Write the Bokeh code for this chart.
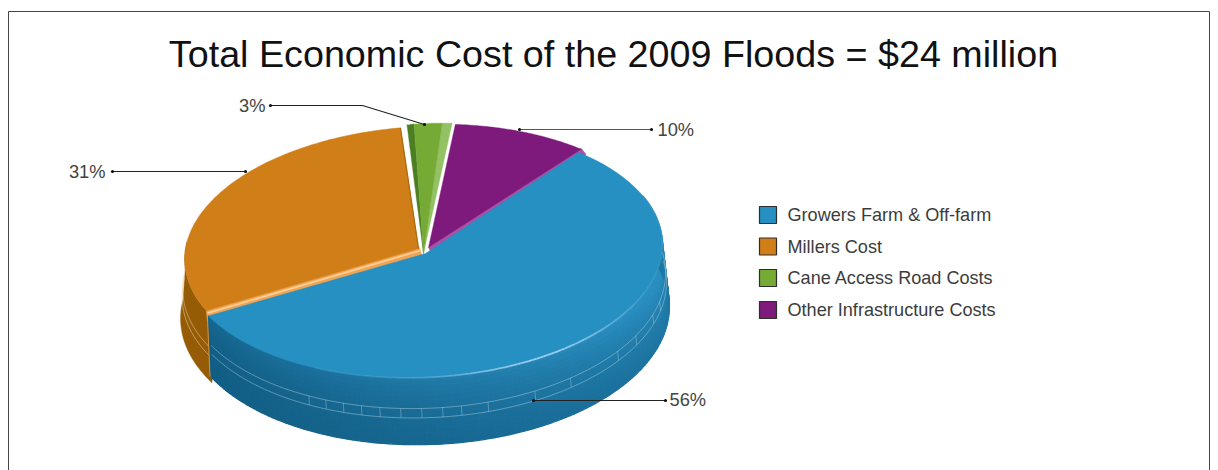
import numpy as np
from bokeh.embed import file_html
from bokeh.models import Range1d
from bokeh.plotting import figure
from bokeh.resources import INLINE
from bokeh.core.properties import value

TITLE = "Total Economic Cost of the 2009 Floods = $24 million"
categories = ["Growers Farm & Off-farm", "Millers Cost", "Cane Access Road Costs", "Other Infrastructure Costs"]
shares = [56, 31, 3, 10]
share_labels = ["56%", "31%", "3%", "10%"]
colors = ["#2590c1", "#d07e18", "#75aa35", "#7d1a7c"]

FONT = value("Liberation Sans")

# pie projection: a tilted ellipse for the top face and one for the bottom rim
TOP = dict(cx=424.0, cy=251.0, a=240.0, b=125.0, tilt=np.radians(2.6))
BOT = dict(cx=427.0, cy=312.0, a=242.0, b=132.0, tilt=np.radians(2.0))
START = 47.0


def rim(theta_deg, e=TOP, off=(0, 0)):
    t = np.radians(np.asarray(theta_deg, dtype=float))
    u, v = e["a"] * np.cos(t), -e["b"] * np.sin(t)
    c, s = np.cos(e["tilt"]), np.sin(e["tilt"])
    return e["cx"] + u * c + v * s + off[0], e["cy"] - u * s + v * c + off[1]


def arc(t0, t1, n=90):
    return np.linspace(t0, t1, n)


def wedge(t0, t1, tip, off=(0, 0)):
    x, y = rim(arc(t0, t1), TOP, off)
    return [tip[0]] + list(x), [tip[1]] + list(y)


def mix(c0, c1, f):
    f = float(np.clip(f, 0, 1))
    a = [int(c0[i:i + 2], 16) for i in (1, 3, 5)]
    b = [int(c1[i:i + 2], 16) for i in (1, 3, 5)]
    return "#%02x%02x%02x" % tuple(round(p + (q - p) * f) for p, q in zip(a, b))


# slice boundaries run clockwise from the start angle
spans = np.array(shares) * 3.6
ends = START - np.cumsum(spans)
begins = ends + spans
blue_start, blue_end = begins[0], ends[0]
orange_start, orange_end = begins[1], ends[1]
green_start, green_end = begins[2], ends[2]
purple_start, purple_end = begins[3], ends[3]

p = figure(width=1218, height=470, output_backend="svg", toolbar_location=None,
           x_range=Range1d(0, 1218), y_range=Range1d(470, 0),
           min_border=0, outline_line_color=None, background_fill_color="white",
           border_fill_color="white")
p.axis.visible = False
p.grid.visible = False

# frame, open at the bottom
p.line([8, 8, 1209, 1209], [470, 11, 11, 470], line_color="#444444", line_width=1)

p.text([613], [53], text=[TITLE], text_font=FONT, text_font_size="37.7px", text_color="#111111",
       text_align="center", text_baseline="middle")

# --- outer wall of the orange slice, tucked slightly under the blue wall
side_th = arc(orange_start + 3, orange_start - 35, 44)
tx, ty = rim(side_th, TOP, (0, 0))
bx, by = rim(side_th, BOT, (-5, 0))
p.patch(list(tx) + list(bx[::-1]), list(ty) + list(by[::-1]), fill_color="#955c05", line_color="#955c05", line_width=0.5)
for depth in (0.50, 0.63):
    p.line(tx + (bx - tx) * depth, ty + (by - ty) * depth, line_color="#e6cfa6", line_width=0.8, line_alpha=0.7)

# --- orange top face and its cut edge
ox, oy = wedge(orange_start - 2.2, orange_end + 0.6, (418, 248))
cx0, cy0 = rim(orange_start - 2.2)
p.patch([cx0, 419, 422, cx0 + 1], [cy0, 247, 257, cy0 + 10], fill_color="#f0a452", line_color="#f0a452", line_width=0.5)
p.patch(ox, oy, fill_color=colors[1], line_color=colors[1], line_width=0.5)
p.line([cx0 + 1, 420], [cy0 + 2.5, 250], line_color="#fbcd98", line_width=1.8)
ex, ey = rim(orange_end + 0.6)
p.line([ex, 418], [ey, 248], line_color="#a9690f", line_width=1.2)

# --- green slice: left wall, top face, right wall
gtip = (423, 253)
goff = (4, -3)
g_dark = green_start - spans[2] * 0.16
g_light = green_start - spans[2] * 0.78
p.patches(
    [wedge(green_start, g_dark, gtip, goff)[0], wedge(g_light, green_end, gtip, goff)[0], wedge(g_dark, g_light, gtip, goff)[0]],
    [wedge(green_start, g_dark, gtip, goff)[1], wedge(g_light, green_end, gtip, goff)[1], wedge(g_dark, g_light, gtip, goff)[1]],
    fill_color=["#4c7f22", "#93c163", colors[2]], line_color=["#4c7f22", "#93c163", colors[2]], line_width=0.4)

# --- purple slice with its lit cut face
poff = (1, -2)
qx, qy = rim(purple_end + 1.2, TOP, poff)
p.patch([qx + 5, qx, 428, 432], [qy + 5, qy - 1, 247, 255], fill_color="#a652a6", line_color="#a652a6", line_width=0.4)
ux, uy = wedge(purple_start - 1.5, purple_end + 1.2, (428, 247), poff)
p.patch(ux, uy, fill_color=colors[3], line_color=colors[3], line_width=0.4)

# --- blue wall, shaded strip by strip
dark, light = "#125e85", "#2a8ec0"
th_edges = np.linspace(blue_end, 22, 141)
depths = np.linspace(0, 1, 15)
bl_off = (-2, 1)
wall_x, wall_y, wall_c = [], [], []
for th0, th1 in zip(th_edges[:-1], th_edges[1:]):
    mid = (th0 + th1) / 2
    along = np.clip((mid - blue_end) / 140.0, 0, 1) ** 1.2
    tx0, ty0 = rim(th0, TOP, bl_off)
    tx1, ty1 = rim(th1, TOP, bl_off)
    bx0, by0 = rim(th0, BOT, (0, 0))
    bx1, by1 = rim(th1, BOT, (0, 0))
    for d0, d1 in zip(depths[:-1], depths[1:]):
        dm = (d0 + d1) / 2
        wall_x.append([tx0 + (bx0 - tx0) * d0, tx1 + (bx1 - tx1) * d0, tx1 + (bx1 - tx1) * d1, tx0 + (bx0 - tx0) * d1])
        wall_y.append([ty0 + (by0 - ty0) * d0, ty1 + (by1 - ty1) * d0, ty1 + (by1 - ty1) * d1, ty0 + (by0 - ty0) * d1])
        wall_c.append(mix(dark, light, along * (1 - 0.5 * dm) + 0.22 * (1 - dm) ** 3))
p.patches(wall_x, wall_y, fill_color=wall_c, line_color=wall_c, line_width=1.3)

# seam lines and small ticks on the wall
wall_th = arc(blue_end + 1, 8, 150)
lane_a, lane_b = 0.46, 0.60


def lane(th, d):
    a = rim(th, TOP, bl_off)
    b = rim(th, BOT, (0, 0))
    return a[0] + (b[0] - a[0]) * d, a[1] + (b[1] - a[1]) * d


for d in (lane_a, lane_b):
    lx, ly = lane(wall_th, d)
    p.line(lx, ly, line_color="#c3dbe7", line_width=0.7, line_alpha=0.6)
tick_th = [-120, -115.5, -111, -106.5, -102, -97, -92, -87, -82.5, -76, -64, -54, -38, -30, -20, -14]
tick_xs, tick_ys = [], []
for th in tick_th:
    xa, ya = lane(th, lane_a)
    xb, yb = lane(th, lane_b)
    tick_xs.append([xa, xb])
    tick_ys.append([ya, yb])
p.multi_line(tick_xs, tick_ys, line_color="#c3dbe7", line_width=0.7, line_alpha=0.5)

# --- blue top face, with a peach seam against the orange wall
cbx, cby = rim(blue_end, TOP, bl_off)
mbx, mby = rim(blue_end, BOT, (0, 0))
p.line([cbx - 1, mbx - 1], [cby, mby], line_color="#d99a4e", line_width=0.9)
bbx, bby = wedge(blue_start + 1.0, blue_end, (425, 253), bl_off)
p.patch(bbx, bby, fill_color=colors[0], line_color=colors[0], line_width=0.4)

# glint along the front rim
glint_th = arc(-118, 22, 141)
gx, gy = rim(glint_th, TOP, bl_off)
seg_x = [[gx[i], gx[i + 1]] for i in range(len(gx) - 1)]
seg_y = [[gy[i], gy[i + 1]] for i in range(len(gy) - 1)]
seg_a = [float(0.12 + 0.85 * np.exp(-((t + 62) / 24.0) ** 2)) for t in glint_th[:-1]]
p.multi_line(seg_x, seg_y, line_color="#9bd0f2", line_alpha=seg_a, line_width=1.8)

# --- leader lines with dotted ends, then the percent labels
leaders_x = [[533, 665], [112, 245], [270, 362, 424], [519, 651]]
leaders_y = [[400, 400], [171, 171], [105, 105, 124], [129, 129]]
leader_cols = ["#222222", "#222222", "#222222", "#555555"]
p.multi_line(leaders_x, leaders_y, line_color=leader_cols, line_width=1.1)
p.scatter([x for l in leaders_x for x in (l[0], l[-1])], [y for l in leaders_y for y in (l[0], l[-1])],
          size=3.2, fill_color="#111111", line_color=None)
p.text([669, 105, 265, 657], [399, 170.5, 105, 128.5], text=share_labels, text_font=FONT, text_font_size="18.3px",
       text_color="#444444", text_align=["left", "right", "right", "left"], text_baseline="middle")

# --- legend
leg_y = [214.5, 246, 277.5, 309.5]
p.rect([767.5] * 4, leg_y, width=17, height=17, fill_color=colors, line_color="#2e2e2e", line_width=1.2)
p.text([787] * 4, leg_y, text=categories, text_font=FONT, text_font_size="18.1px", text_color="#3c3c3c",
       text_align="left", text_baseline="middle")

open("out.html", "w").write(file_html(p, INLINE))
